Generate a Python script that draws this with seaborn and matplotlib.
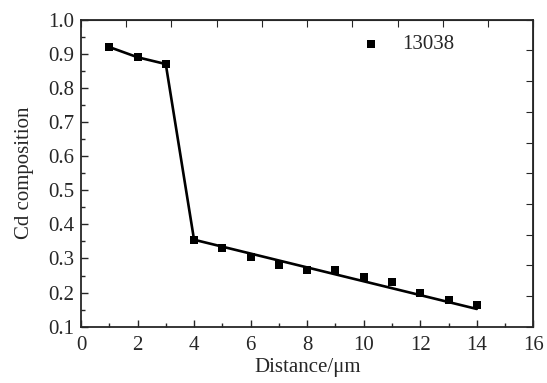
import numpy as np
import pandas as pd
import seaborn as sns
from matplotlib import pyplot as plt
from matplotlib.ticker import MultipleLocator

# measured points
distance = [1, 2, 3, 4, 5, 6, 7, 8, 9, 10, 11, 12, 13, 14]
cd_comp = [0.92, 0.89, 0.87, 0.355, 0.33, 0.305, 0.28, 0.265, 0.265, 0.245, 0.23, 0.198, 0.178, 0.163]

# guide line drawn through the data
line_x = [1, 2, 3, 4, 14]
line_y = [0.92, 0.89, 0.87, 0.355, 0.152]

sns.set_style("ticks")
plt.rcParams['font.family'] = ['Liberation Serif', 'DejaVu Serif']

df = pd.DataFrame({"Distance": distance, "Cd": cd_comp})
lf = pd.DataFrame({"x": line_x, "y": line_y})

fig = plt.figure(figsize=(5.47, 3.83), dpi=100)
ax = fig.add_axes([0.148, 0.147, 0.827, 0.8015])

sns.lineplot(data=lf, x="x", y="y", color="black", linewidth=1.9, sort=False, ax=ax)
sns.scatterplot(data=df, x="Distance", y="Cd", marker="s", s=40, color="black",
                edgecolor="black", linewidth=0, label="13038", ax=ax, zorder=3)

ax.set_xlim(0, 16)
ax.set_ylim(0.1, 1.0)
ax.xaxis.set_major_locator(MultipleLocator(2))
ax.xaxis.set_minor_locator(MultipleLocator(1))
ax.yaxis.set_major_locator(MultipleLocator(0.1))
ax.yaxis.set_minor_locator(MultipleLocator(0.05))
ax.tick_params(which="both", direction="in", labelsize=15, width=1)
ax.tick_params(which="major", length=5)
ax.tick_params(which="minor", length=3)
ax.tick_params(axis="x", which="both", pad=7)
ax.tick_params(axis="y", which="both", pad=5)
ax.set_xlabel("Distance/μm", fontsize=15, labelpad=2)
ax.set_ylabel("Cd composition", fontsize=15, labelpad=10)
for sp in ax.spines.values():
    sp.set_linewidth(1.3)

# top and right axes with their own tick spacing
top = ax.secondary_xaxis("top")
top.set_xticks(np.arange(0, 16.01, 1.6))
top.tick_params(direction="in", length=5, labeltop=False)
right = ax.secondary_yaxis("right")
right.set_yticks(np.arange(0.1, 1.001, 0.09))
right.tick_params(direction="in", length=5, labelright=False)

ax.legend(loc="upper right", frameon=False, fontsize=15, handletextpad=0.5,
          markerscale=1.0, bbox_to_anchor=(0.866, 1.012))

fig.savefig("out.png", dpi=100)
